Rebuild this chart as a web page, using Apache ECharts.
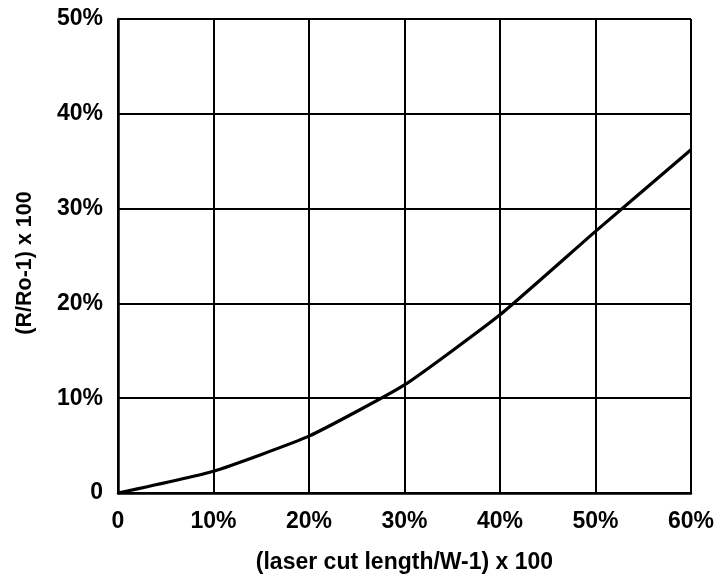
<!DOCTYPE html>
<html><head><meta charset="utf-8">
<script src="https://cdn.jsdelivr.net/npm/echarts@6/dist/echarts.min.js"></script>
<style>html,body{margin:0;padding:0;background:#fff}#c{width:717px;height:581px}</style>
</head><body><div id="c"></div>
<script>
const xValues = [0, 10, 20, 30, 40, 50, 60];
const yValues = [0, 2.3, 6.0, 11.4, 18.8, 27.6, 36.2];
const xTicks = ['0', '10%', '20%', '30%', '40%', '50%', '60%'];
const yTicks = ['0', '10%', '20%', '30%', '40%', '50%'];
const xTitle = '(laser cut length/W-1) x 100';
const yTitle = '(R/Ro-1) x 100';

const font = 'Liberation Sans, Arial, sans-serif';
const chart = echarts.init(document.getElementById('c'));
chart.setOption({
  animation: false,
  backgroundColor: '#fff',
  grid: {left: 118, right: 26, top: 19, bottom: 88},
  xAxis: {
    type: 'value', min: 0, max: 60, interval: 10,
    name: xTitle, nameLocation: 'middle', nameGap: 58,
    nameTextStyle: {fontFamily: font, fontWeight: 'bold', fontSize: 23, color: '#000'},
    axisLine: {show: true, lineStyle: {color: '#000', width: 2.5}},
    axisTick: {show: false},
    splitLine: {show: true, lineStyle: {color: '#000', width: 2}},
    axisLabel: {margin: 17, fontFamily: font, fontWeight: 'bold', fontSize: 23, color: '#000',
      formatter: v => xTicks[Math.round(v / 10)]}
  },
  yAxis: {
    type: 'value', min: 0, max: 50, interval: 10,
    name: yTitle, nameLocation: 'middle', nameGap: 82, nameRotate: 90,
    nameTextStyle: {fontFamily: font, fontWeight: 'bold', fontSize: 21.5, color: '#000', padding: [0, 14, 0, 0]},
    axisLine: {show: true, lineStyle: {color: '#000', width: 2.5}},
    axisTick: {show: false},
    splitLine: {show: true, lineStyle: {color: '#000', width: 2}},
    axisLabel: {margin: 15, fontFamily: font, fontWeight: 'bold', fontSize: 23, color: '#000',
      formatter: v => yTicks[Math.round(v / 10)]}
  },
  series: [{
    type: 'line',
    data: xValues.map((x, i) => [x, yValues[i]]),
    symbol: 'none',
    smooth: 0.15,
    lineStyle: {color: '#000', width: 3.2},
    z: 5
  }]
});
</script></body></html>
